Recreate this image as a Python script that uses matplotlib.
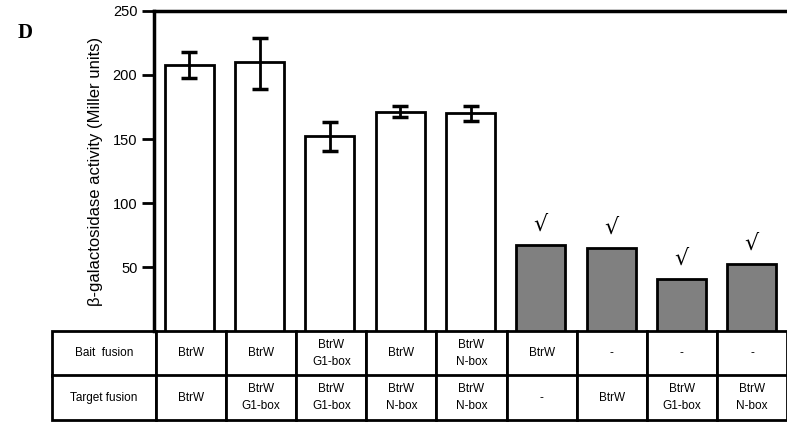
import matplotlib.pyplot as plt

# values
activity = [208, 210, 152, 171, 170, 67, 65, 41, 52]
err_up = [10, 19, 11, 5, 6, 0, 0, 0, 0]
err_down = [10, 21, 11, 4, 6, 0, 0, 0, 0]
bar_colors = ['white'] * 5 + ['#808080'] * 4
checked = [False] * 5 + [True] * 4

bait = ['BtrW', 'BtrW', 'BtrW\nG1-box', 'BtrW', 'BtrW\nN-box', 'BtrW', '-', '-', '-']
target = ['BtrW', 'BtrW\nG1-box', 'BtrW\nG1-box', 'BtrW\nN-box', 'BtrW\nN-box', '-', 'BtrW',
          'BtrW\nG1-box', 'BtrW\nN-box']
row_labels = ['Bait  fusion', 'Target fusion']
yticks = [50, 100, 150, 200, 250]

plt.rcParams['font.family'] = ['Liberation Sans', 'DejaVu Sans']

fig = plt.figure(figsize=(7.87, 4.23), dpi=100)
ax = fig.add_axes([154 / 787, 1 - 331 / 423, 633 / 787, 320 / 423])

x = list(range(len(activity)))
ax.bar(x, activity, width=0.7, color=bar_colors, edgecolor='black', linewidth=2, zorder=2)

# error bars only where we have them
ex = [i for i in x if err_up[i] > 0]
ax.errorbar(ex, [activity[i] for i in ex],
            yerr=[[err_down[i] for i in ex], [err_up[i] for i in ex]],
            fmt='none', ecolor='black', elinewidth=2, capsize=6, capthick=2.5, zorder=3)

for i in x:
    if checked[i]:
        ax.text(i, activity[i] + 8, '\u221a', ha='center', va='bottom', fontsize=16,
                family=['DejaVu Sans'])

ax.set_xlim(-0.5, len(activity) - 0.5)
ax.set_ylim(0, 250)
ax.set_yticks(yticks)
ax.set_xticks([])
ax.tick_params(axis='y', direction='out', length=9, width=2, labelsize=10.5, pad=3)
for side in ['right', 'bottom']:
    ax.spines[side].set_visible(False)
ax.spines['left'].set_linewidth(2.5)
ax.spines['top'].set_linewidth(2.5)

ax.set_ylabel('\u03b2-galactosidase activity (Miller units)', fontsize=12, labelpad=7)

# table under the bars
cells = [[row_labels[0]] + bait, [row_labels[1]] + target]
first_w = 104 / 735
other_w = 70.1 / 735
tab = ax.table(cellText=cells, cellLoc='center',
               colWidths=[first_w] + [other_w] * len(activity),
               bbox=[-102 / 633, -89 / 320, 735 / 633, 89 / 320])
tab.auto_set_font_size(False)
tab.set_fontsize(8.5)
for cell in tab.get_celld().values():
    cell.set_linewidth(2)
    cell.set_edgecolor('black')
    cell.get_text().set_linespacing(1.55)

fig.text(18 / 787, 1 - 33 / 423, 'D', fontsize=15, fontweight='bold',
         family=['Liberation Serif'], va='center', ha='left')

fig.savefig('out.png', dpi=100)
